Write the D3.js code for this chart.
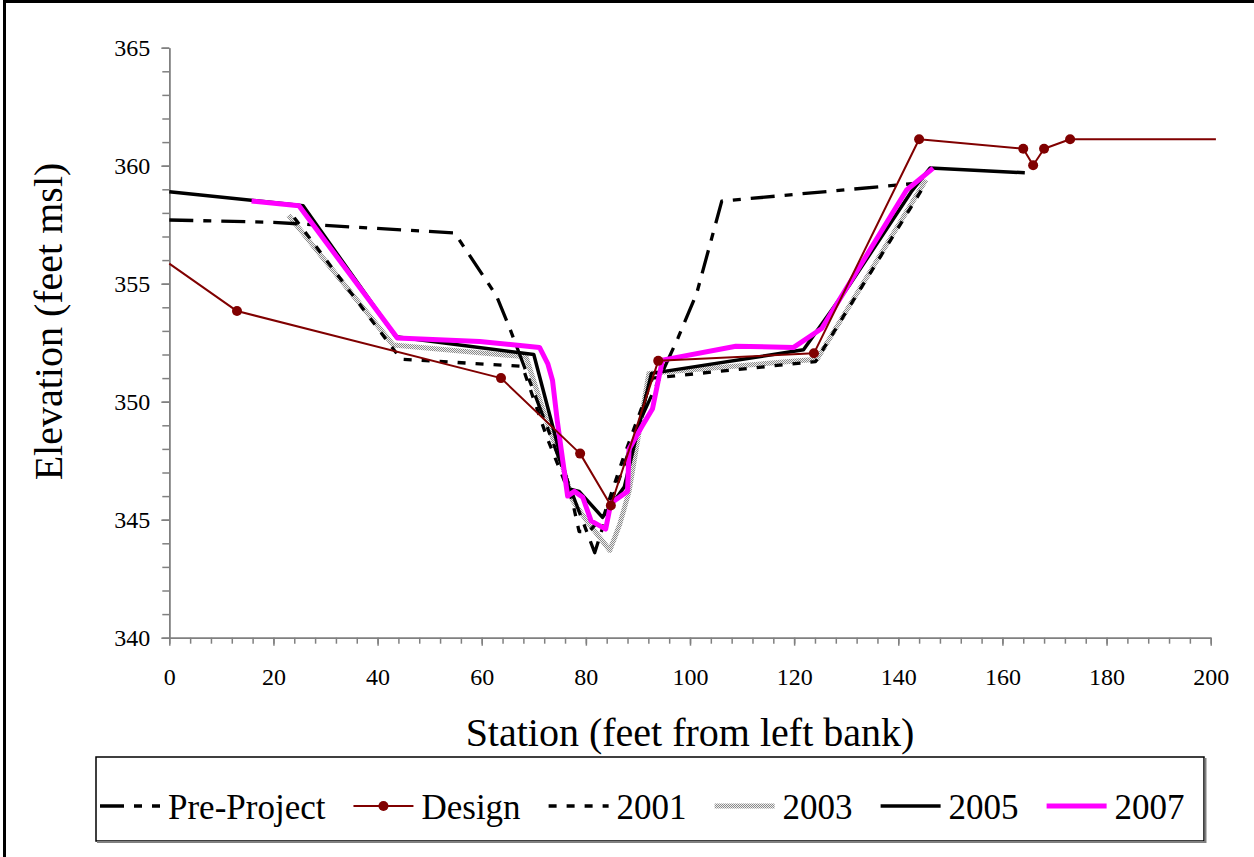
<!DOCTYPE html>
<html>
<head>
<meta charset="utf-8">
<script src="https://cdn.jsdelivr.net/npm/d3@7"></script>
<style>
  html, body { margin: 0; padding: 0; background: #fff; }
  svg { display: block; }
</style>
</head>
<body>
<svg id="chart" width="1254" height="857"></svg>
<script>
// ---------------- DATA ----------------
const seriesNames = ["Pre-Project", "Design", "2001", "2003", "2005", "2007"];

const preProjectX = [0, 20, 54.8, 62.8, 65.4, 81.7, 84, 90, 97.7, 101.3, 106.1, 143.3];
const preProjectY = [357.7, 357.6, 357.15, 354.5, 353.1, 343.6, 345.2, 349, 352.7, 354.6, 358.5, 359.25];

const designX = [0, 13.0, 63.7, 78.9, 84.8, 93.9, 123.8, 144.0, 164.0, 165.9, 168.0, 173.0, 201];
const designY = [355.85, 353.84, 351.0, 347.8, 345.6, 351.73, 352.05, 361.12, 360.72, 360.02, 360.72, 361.12, 361.12];

const y2001X = [24, 44.5, 67.8, 72.5, 77.4, 78.7, 80.6, 83.5, 87, 92.8, 124.1, 145.4];
const y2001Y = [357.8, 351.8, 351.5, 348.5, 345.8, 344.5, 344.5, 345.2, 347.5, 351.0, 351.7, 359.3];

const y2003X = [22.9, 43, 68.5, 72, 75.6, 77.5, 80, 84.6, 86.5, 88.3, 92.1, 124.4, 145.3];
const y2003Y = [357.9, 352.4, 351.9, 349.5, 347.2, 345.8, 345.0, 343.7, 344.8, 346.2, 351.2, 351.8, 359.4];

const y2005X = [0, 25.7, 43.5, 70, 76.8, 78.7, 83.2, 87.4, 92.6, 121.8, 130.5, 142.5, 146.1, 164.3];
const y2005Y = [358.9, 358.3, 352.75, 352.0, 346.3, 346.2, 345.1, 346.4, 351.2, 352.2, 354.9, 358.9, 359.9, 359.7];

const y2007X = [15.8, 24.9, 43.8, 59.6, 71.1, 72.7, 73.6, 74.5, 76.5, 77.8, 79.4, 81, 83.8, 84.8, 88, 88.3, 90.9, 92.8, 94.7, 108.8, 119.9, 125.3, 141.6, 146.7];
const y2007Y = [358.5, 358.3, 352.7, 352.55, 352.3, 351.6, 350.9, 349.2, 346.0, 346.2, 345.95, 344.95, 344.6, 345.7, 346.2, 348.0, 349.0, 349.7, 351.76, 352.35, 352.3, 353.1, 358.97, 359.9];

const xMajorTicks = [0, 20, 40, 60, 80, 100, 120, 140, 160, 180, 200];
const yMajorTicks = [340, 345, 350, 355, 360, 365];

const xTitle = "Station (feet from left bank)";
const yTitle = "Elevation (feet msl)";

// ---------------- LAYOUT ----------------
const FONT = '"Liberation Serif", "Times New Roman", Times, serif';
const svg = d3.select("#chart");
const plot = { left: 169.3, right: 1210.7, top: 47.7, bottom: 637.7 };
const x = d3.scaleLinear().domain([0, 200]).range([plot.left, plot.right]);
const y = d3.scaleLinear().domain([340, 365]).range([plot.bottom, plot.top]);

// outer frame
svg.append("rect").attr("x", 4.5).attr("y", 1.5).attr("width", 1270).attr("height", 880)
  .attr("fill", "none").attr("stroke", "#000").attr("stroke-width", 3);

// pattern for 2003
const defs = svg.append("defs");
const pat = defs.append("pattern").attr("id", "hatch2003").attr("patternUnits", "userSpaceOnUse")
  .attr("width", 2).attr("height", 2);
pat.append("rect").attr("width", 2).attr("height", 2).attr("fill", "#efefef");
pat.append("rect").attr("width", 1).attr("height", 1).attr("fill", "#8a8a8a");
pat.append("rect").attr("x", 1).attr("y", 1).attr("width", 1).attr("height", 1).attr("fill", "#8a8a8a");

// axes
const axisColor = "#808080";
const gx = svg.append("g").attr("transform", `translate(0,${plot.bottom})`);
gx.call(d3.axisBottom(x).tickValues(d3.range(0, 201, 4)).tickSize(6).tickSizeOuter(0).tickFormat(""));
const gxMaj = svg.append("g").attr("transform", `translate(0,${plot.bottom})`);
gxMaj.call(d3.axisBottom(x).tickValues(xMajorTicks).tickSize(8).tickSizeOuter(0).tickPadding(22).tickFormat(d3.format("d")));

const gy = svg.append("g").attr("transform", `translate(${plot.left},0)`);
gy.call(d3.axisLeft(y).tickValues(d3.range(340, 366, 1)).tickSize(7).tickSizeOuter(0).tickFormat(""));
const gyMaj = svg.append("g").attr("transform", `translate(${plot.left},0)`);
gyMaj.call(d3.axisLeft(y).tickValues(yMajorTicks).tickSize(8).tickSizeOuter(0).tickPadding(11).tickFormat(d3.format("d")));

[gx, gxMaj, gy, gyMaj].forEach(g => {
  g.attr("font-family", null).attr("font-size", null);
  g.selectAll("path.domain").attr("stroke", axisColor).attr("stroke-width", 1.5);
  g.selectAll(".tick line").attr("stroke", axisColor).attr("stroke-width", 1.5);
  g.selectAll(".tick text").attr("fill", "#000").style("font-size", "24px");
});

// axis titles
svg.append("text").attr("x", 690).attr("y", 746).attr("text-anchor", "middle")
  .style("font-size", "40px").text(xTitle);
svg.append("text").attr("transform", "translate(62,321.5) rotate(-90)").attr("text-anchor", "middle")
  .style("font-size", "40px").text(yTitle);

// series
const styles = {
  "Pre-Project": { stroke: "#000", width: 3.3, dash: "24,10,8,10" },
  "Design": { stroke: "#800000", width: 2, dash: null },
  "2001": { stroke: "#000", width: 3.3, dash: "8,10" },
  "2003": { stroke: "url(#hatch2003)", width: 5, dash: null },
  "2005": { stroke: "#000", width: 3.5, dash: null },
  "2007": { stroke: "#ff00ff", width: 5, dash: null }
};
const dataByName = {
  "Pre-Project": d3.zip(preProjectX, preProjectY),
  "Design": d3.zip(designX, designY),
  "2001": d3.zip(y2001X, y2001Y),
  "2003": d3.zip(y2003X, y2003Y),
  "2005": d3.zip(y2005X, y2005Y),
  "2007": d3.zip(y2007X, y2007Y)
};
const line = d3.line().x(d => x(d[0])).y(d => y(d[1]));
const drawOrder = ["2003", "2001", "Pre-Project", "2005", "2007", "Design"];
drawOrder.forEach(name => {
  const s = styles[name];
  svg.append("path").datum(dataByName[name])
    .attr("d", line)
    .attr("fill", "none")
    .attr("stroke", s.stroke)
    .attr("stroke-width", s.width)
    .attr("stroke-linejoin", "round")
    .attr("stroke-dasharray", s.dash);
});
// design markers (interior surveyed points)
svg.selectAll("circle.design").data(dataByName["Design"].slice(1, -1)).enter()
  .append("circle").attr("class", "design")
  .attr("cx", d => x(d[0])).attr("cy", d => y(d[1])).attr("r", 5)
  .attr("fill", "#800000");

// legend
const lg = svg.append("g");
lg.append("rect").attr("x", 96).attr("y", 757).attr("width", 1108).attr("height", 84)
  .attr("fill", "#fff").attr("stroke", "#000").attr("stroke-width", 1.5);
lg.append("line").attr("x1", 97).attr("x2", 1205.5).attr("y1", 842).attr("y2", 842).attr("stroke", "#808080").attr("stroke-width", 2);
lg.append("line").attr("x1", 1205.5).attr("x2", 1205.5).attr("y1", 758).attr("y2", 843).attr("stroke", "#808080").attr("stroke-width", 2);

svg.selectAll("text").style("font-family", FONT);

let cx = 100;
const lineY = 806, textY = 819;
seriesNames.forEach(name => {
  const s = styles[name];
  const sw = 60;
  lg.append("line").attr("x1", cx).attr("x2", cx + sw).attr("y1", lineY).attr("y2", lineY)
    .attr("stroke", s.stroke).attr("stroke-width", s.width).attr("stroke-dasharray", s.dash);
  if (name === "Design") {
    lg.append("circle").attr("cx", cx + sw / 2).attr("cy", lineY).attr("r", 5).attr("fill", "#800000");
  }
  const t = lg.append("text").attr("x", cx + sw + 8).attr("y", textY)
    .style("font-family", FONT).style("font-size", "35px").text(name);
  const w = t.node().getComputedTextLength();
  cx = cx + sw + 8 + w + 28;
});
</script>
</body>
</html>
